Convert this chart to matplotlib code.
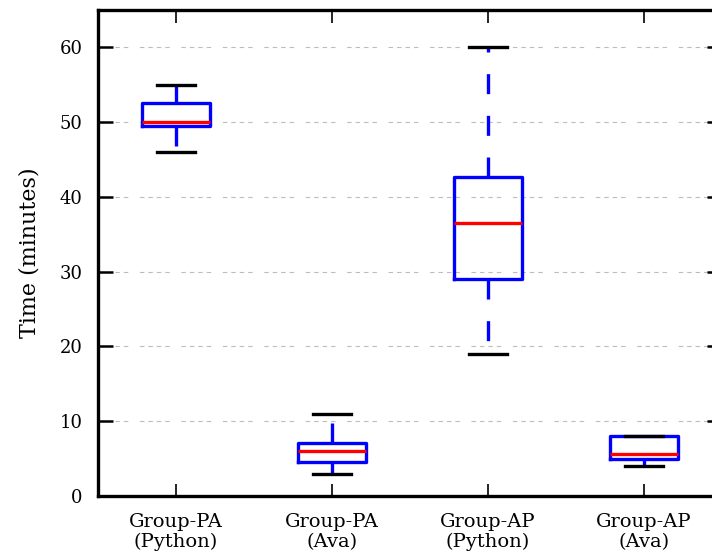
import matplotlib
matplotlib.use("Agg")
from matplotlib import pyplot as plt

# box statistics (minutes)
groups = ["Group-PA\n(Python)", "Group-PA\n(Ava)", "Group-AP\n(Python)", "Group-AP\n(Ava)"]
medians = [50.0, 6.0, 36.5, 5.6]
q1 = [49.5, 4.6, 29.0, 4.9]
q3 = [52.5, 7.1, 42.7, 8.0]
whislo = [46.0, 3.0, 19.0, 4.0]
whishi = [55.0, 11.0, 60.0, 8.0]
yticks = [0, 10, 20, 30, 40, 50, 60]

plt.rcParams["font.family"] = ["DejaVu Serif"]

fig = plt.figure(figsize=(7.12, 5.54), dpi=100)
# axes run slightly past the right edge, as in the original crop
ax = fig.add_axes([98 / 712, 58 / 554, 624 / 712, 486 / 554])

stats = []
for i in range(len(groups)):
    stats.append({"med": medians[i], "q1": q1[i], "q3": q3[i],
                  "whislo": whislo[i], "whishi": whishi[i],
                  "fliers": [], "label": groups[i]})

lw = 2.4
ax.bxp(stats, positions=[1, 2, 3, 4], widths=0.44, capwidths=0.24,
       showfliers=False,
       boxprops=dict(color="#0000ff", linewidth=lw),
       whiskerprops=dict(color="#0000ff", linewidth=lw, linestyle=(0, (6, 6.5))),
       capprops=dict(color="black", linewidth=lw),
       medianprops=dict(color="#ff0000", linewidth=lw))

ax.set_xlim(0.5, 4.5)
ax.set_ylim(0, 65)
ax.set_yticks(yticks)
ax.set_xticks([1, 2, 3, 4])
ax.set_xticklabels(groups, fontsize=14, linespacing=1.15)
ax.tick_params(axis="y", labelsize=13)

# light grid made of small dash groups
grid_dash = (0, (4, 3.6, 4, 3.6, 4, 3.6, 4, 10.5))
ax.yaxis.grid(True, color="#bdbdbd", linestyle=grid_dash, linewidth=0.8)
ax.set_axisbelow(True)

ax.tick_params(axis="x", direction="in", length=9, width=1.2, top=True, pad=12)
ax.tick_params(axis="y", direction="in", length=11, width=1.8, right=True, pad=11)

for s in ax.spines.values():
    s.set_linewidth(2.4)

ax.set_ylabel("Time (minutes)", fontsize=16, labelpad=14)

fig.savefig("out.png", dpi=100)
